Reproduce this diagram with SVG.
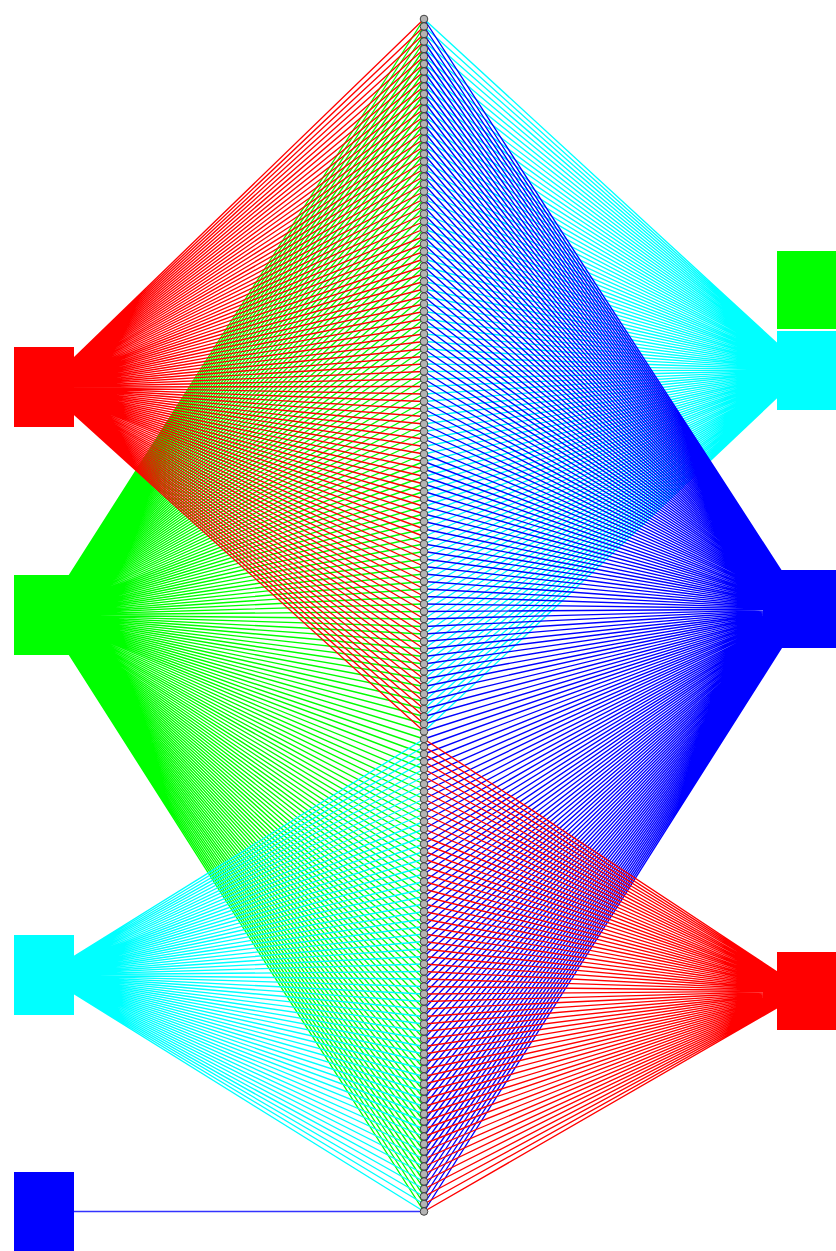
<svg xmlns="http://www.w3.org/2000/svg" xmlns:xlink="http://www.w3.org/1999/xlink" width="836" height="1251" viewBox="0 0 836 1251">
<style>
.c path{fill:none;stroke-width:1.35;stroke-linejoin:round}
.box{stroke:none}
.n use{fill:#b4b4b4;stroke:#333333;stroke-width:0.9}
</style>
<defs><circle id="c" cx="424" cy="0" r="3.8"/></defs>
<rect width="836" height="1251" fill="#fff"/>
<g id="connectors" class="c">
<path id="e-left-green" stroke="#00ff00" d="M44 615 424 19 44 615 424 26.5 44 615 424 34 44 615 424 41.5 44 615 424 49 44 615 424 56.5 44 615 424 64 44 615 424 71.5 44 615 424 79 44 615 424 86.5 44 615 424 94 44 615 424 101.5 44 615 424 109 44 615 424 116.5 44 615 424 124 44 615 424 131.5 44 615 424 139 44 615 424 146.5 44 615 424 154 44 615 424 161.5 44 615 424 169 44 615 424 176.5 44 615 424 184 44 615 424 191.5 44 615 424 199 44 615 424 206.5 44 615 424 214 44 615 424 221.5 44 615 424 229 44 615 424 236.5 44 615 424 244 44 615 424 251.5 44 615 424 259 44 615 424 266.5 44 615 424 274 44 615 424 281.5 44 615 424 289 44 615 424 296.5 44 615 424 304 44 615 424 311.5 44 615 424 319 44 615 424 326.5 44 615 424 334 44 615 424 341.5 44 615 424 349 44 615 424 356.5 44 615 424 364 44 615 424 371.5 44 615 424 379 44 615 424 386.5 44 615 424 394 44 615 424 401.5 44 615 424 409 44 615 424 416.5 44 615 424 424 44 615 424 431.5 44 615 424 439 44 615 424 446.5 44 615 424 454 44 615 424 461.5 44 615 424 469 44 615 424 476.5 44 615 424 484 44 615 424 491.5 44 615 424 499 44 615 424 506.5 44 615 424 514 44 615 424 521.5 44 615 424 529 44 615 424 536.5 44 615 424 544 44 615 424 551.5 44 615 424 559 44 615 424 566.5 44 615 424 574 44 615 424 581.5 44 615 424 589 44 615 424 596.5 44 615 424 604 44 615 424 611.5 44 615 424 619 44 615 424 626.5 44 615 424 634 44 615 424 641.5 44 615 424 649 44 615 424 656.5 44 615 424 664 44 615 424 671.5 44 615 424 679 44 615 424 686.5 44 615 424 694 44 615 424 701.5 44 615 424 709 44 615 424 716.5 44 615 424 724 44 615 424 731.5 44 615 424 739 44 615 424 746.5 44 615 424 754 44 615 424 761.5 44 615 424 769 44 615 424 776.5 44 615 424 784 44 615 424 791.5 44 615 424 799 44 615 424 806.5 44 615 424 814 44 615 424 821.5 44 615 424 829 44 615 424 836.5 44 615 424 844 44 615 424 851.5 44 615 424 859 44 615 424 866.5 44 615 424 874 44 615 424 881.5 44 615 424 889 44 615 424 896.5 44 615 424 904 44 615 424 911.5 44 615 424 919 44 615 424 926.5 44 615 424 934 44 615 424 941.5 44 615 424 949 44 615 424 956.5 44 615 424 964 44 615 424 971.5 44 615 424 979 44 615 424 986.5 44 615 424 994 44 615 424 1001.5 44 615 424 1009 44 615 424 1016.5 44 615 424 1024 44 615 424 1031.5 44 615 424 1039 44 615 424 1046.5 44 615 424 1054 44 615 424 1061.5 44 615 424 1069 44 615 424 1076.5 44 615 424 1084 44 615 424 1091.5 44 615 424 1099 44 615 424 1106.5 44 615 424 1114 44 615 424 1121.5 44 615 424 1129 44 615 424 1136.5 44 615 424 1144 44 615 424 1151.5 44 615 424 1159 44 615 424 1166.5 44 615 424 1174 44 615 424 1181.5 44 615 424 1189 44 615 424 1196.5 44 615 424 1204 44 615 424 1211.5"/>
<path id="e-left-red" stroke="#ff0000" d="M44 387 424 19 44 387 424 26.5 44 387 424 34 44 387 424 41.5 44 387 424 49 44 387 424 56.5 44 387 424 64 44 387 424 71.5 44 387 424 79 44 387 424 86.5 44 387 424 94 44 387 424 101.5 44 387 424 109 44 387 424 116.5 44 387 424 124 44 387 424 131.5 44 387 424 139 44 387 424 146.5 44 387 424 154 44 387 424 161.5 44 387 424 169 44 387 424 176.5 44 387 424 184 44 387 424 191.5 44 387 424 199 44 387 424 206.5 44 387 424 214 44 387 424 221.5 44 387 424 229 44 387 424 236.5 44 387 424 244 44 387 424 251.5 44 387 424 259 44 387 424 266.5 44 387 424 274 44 387 424 281.5 44 387 424 289 44 387 424 296.5 44 387 424 304 44 387 424 311.5 44 387 424 319 44 387 424 326.5 44 387 424 334 44 387 424 341.5 44 387 424 349 44 387 424 356.5 44 387 424 364 44 387 424 371.5 44 387 424 379 44 387 424 386.5 44 387 424 394 44 387 424 401.5 44 387 424 409 44 387 424 416.5 44 387 424 424 44 387 424 431.5 44 387 424 439 44 387 424 446.5 44 387 424 454 44 387 424 461.5 44 387 424 469 44 387 424 476.5 44 387 424 484 44 387 424 491.5 44 387 424 499 44 387 424 506.5 44 387 424 514 44 387 424 521.5 44 387 424 529 44 387 424 536.5 44 387 424 544 44 387 424 551.5 44 387 424 559 44 387 424 566.5 44 387 424 574 44 387 424 581.5 44 387 424 589 44 387 424 596.5 44 387 424 604 44 387 424 611.5 44 387 424 619 44 387 424 626.5 44 387 424 634 44 387 424 641.5 44 387 424 649 44 387 424 656.5 44 387 424 664 44 387 424 671.5 44 387 424 679 44 387 424 686.5 44 387 424 694 44 387 424 701.5 44 387 424 709 44 387 424 716.5 44 387 424 724 44 387 424 731.5"/>
<path id="e-left-cyan" stroke="#00ffff" d="M44 975 424 739 44 975 424 746.5 44 975 424 754 44 975 424 761.5 44 975 424 769 44 975 424 776.5 44 975 424 784 44 975 424 791.5 44 975 424 799 44 975 424 806.5 44 975 424 814 44 975 424 821.5 44 975 424 829 44 975 424 836.5 44 975 424 844 44 975 424 851.5 44 975 424 859 44 975 424 866.5 44 975 424 874 44 975 424 881.5 44 975 424 889 44 975 424 896.5 44 975 424 904 44 975 424 911.5 44 975 424 919 44 975 424 926.5 44 975 424 934 44 975 424 941.5 44 975 424 949 44 975 424 956.5 44 975 424 964 44 975 424 971.5 44 975 424 979 44 975 424 986.5 44 975 424 994 44 975 424 1001.5 44 975 424 1009 44 975 424 1016.5 44 975 424 1024 44 975 424 1031.5 44 975 424 1039 44 975 424 1046.5 44 975 424 1054 44 975 424 1061.5 44 975 424 1069 44 975 424 1076.5 44 975 424 1084 44 975 424 1091.5 44 975 424 1099 44 975 424 1106.5 44 975 424 1114 44 975 424 1121.5 44 975 424 1129 44 975 424 1136.5 44 975 424 1144 44 975 424 1151.5 44 975 424 1159 44 975 424 1166.5 44 975 424 1174 44 975 424 1181.5 44 975 424 1189 44 975 424 1196.5 44 975 424 1204 44 975 424 1211.5"/>
<path id="e-left-blue" stroke="#3333ff" stroke-width="1.6" d="M44 1211.5 424 1211.5"/>
<path id="e-right-cyan" stroke="#00ffff" d="M806 370 424 19 806 370 424 26.5 806 370 424 34 806 370 424 41.5 806 370 424 49 806 370 424 56.5 806 370 424 64 806 370 424 71.5 806 370 424 79 806 370 424 86.5 806 370 424 94 806 370 424 101.5 806 370 424 109 806 370 424 116.5 806 370 424 124 806 370 424 131.5 806 370 424 139 806 370 424 146.5 806 370 424 154 806 370 424 161.5 806 370 424 169 806 370 424 176.5 806 370 424 184 806 370 424 191.5 806 370 424 199 806 370 424 206.5 806 370 424 214 806 370 424 221.5 806 370 424 229 806 370 424 236.5 806 370 424 244 806 370 424 251.5 806 370 424 259 806 370 424 266.5 806 370 424 274 806 370 424 281.5 806 370 424 289 806 370 424 296.5 806 370 424 304 806 370 424 311.5 806 370 424 319 806 370 424 326.5 806 370 424 334 806 370 424 341.5 806 370 424 349 806 370 424 356.5 806 370 424 364 806 370 424 371.5 806 370 424 379 806 370 424 386.5 806 370 424 394 806 370 424 401.5 806 370 424 409 806 370 424 416.5 806 370 424 424 806 370 424 431.5 806 370 424 439 806 370 424 446.5 806 370 424 454 806 370 424 461.5 806 370 424 469 806 370 424 476.5 806 370 424 484 806 370 424 491.5 806 370 424 499 806 370 424 506.5 806 370 424 514 806 370 424 521.5 806 370 424 529 806 370 424 536.5 806 370 424 544 806 370 424 551.5 806 370 424 559 806 370 424 566.5 806 370 424 574 806 370 424 581.5 806 370 424 589 806 370 424 596.5 806 370 424 604 806 370 424 611.5 806 370 424 619 806 370 424 626.5 806 370 424 634 806 370 424 641.5 806 370 424 649 806 370 424 656.5 806 370 424 664 806 370 424 671.5 806 370 424 679 806 370 424 686.5 806 370 424 694 806 370 424 701.5 806 370 424 709 806 370 424 716.5 806 370 424 724 806 370 424 731.5"/>
<path id="e-right-blue" stroke="#0000ff" d="M806 609 424 19 806 609 424 26.5 806 609 424 34 806 609 424 41.5 806 609 424 49 806 609 424 56.5 806 609 424 64 806 609 424 71.5 806 609 424 79 806 609 424 86.5 806 609 424 94 806 609 424 101.5 806 609 424 109 806 609 424 116.5 806 609 424 124 806 609 424 131.5 806 609 424 139 806 609 424 146.5 806 609 424 154 806 609 424 161.5 806 609 424 169 806 609 424 176.5 806 609 424 184 806 609 424 191.5 806 609 424 199 806 609 424 206.5 806 609 424 214 806 609 424 221.5 806 609 424 229 806 609 424 236.5 806 609 424 244 806 609 424 251.5 806 609 424 259 806 609 424 266.5 806 609 424 274 806 609 424 281.5 806 609 424 289 806 609 424 296.5 806 609 424 304 806 609 424 311.5 806 609 424 319 806 609 424 326.5 806 609 424 334 806 609 424 341.5 806 609 424 349 806 609 424 356.5 806 609 424 364 806 609 424 371.5 806 609 424 379 806 609 424 386.5 806 609 424 394 806 609 424 401.5 806 609 424 409 806 609 424 416.5 806 609 424 424 806 609 424 431.5 806 609 424 439 806 609 424 446.5 806 609 424 454 806 609 424 461.5 806 609 424 469 806 609 424 476.5 806 609 424 484 806 609 424 491.5 806 609 424 499 806 609 424 506.5 806 609 424 514 806 609 424 521.5 806 609 424 529 806 609 424 536.5 806 609 424 544 806 609 424 551.5 806 609 424 559 806 609 424 566.5 806 609 424 574 806 609 424 581.5 806 609 424 589 806 609 424 596.5 806 609 424 604 806 609 424 611.5 806 609 424 619 806 609 424 626.5 806 609 424 634 806 609 424 641.5 806 609 424 649 806 609 424 656.5 806 609 424 664 806 609 424 671.5 806 609 424 679 806 609 424 686.5 806 609 424 694 806 609 424 701.5 806 609 424 709 806 609 424 716.5 806 609 424 724 806 609 424 731.5 806 609 424 739 806 609 424 746.5 806 609 424 754 806 609 424 761.5 806 609 424 769 806 609 424 776.5 806 609 424 784 806 609 424 791.5 806 609 424 799 806 609 424 806.5 806 609 424 814 806 609 424 821.5 806 609 424 829 806 609 424 836.5 806 609 424 844 806 609 424 851.5 806 609 424 859 806 609 424 866.5 806 609 424 874 806 609 424 881.5 806 609 424 889 806 609 424 896.5 806 609 424 904 806 609 424 911.5 806 609 424 919 806 609 424 926.5 806 609 424 934 806 609 424 941.5 806 609 424 949 806 609 424 956.5 806 609 424 964 806 609 424 971.5 806 609 424 979 806 609 424 986.5 806 609 424 994 806 609 424 1001.5 806 609 424 1009 806 609 424 1016.5 806 609 424 1024 806 609 424 1031.5 806 609 424 1039 806 609 424 1046.5 806 609 424 1054 806 609 424 1061.5 806 609 424 1069 806 609 424 1076.5 806 609 424 1084 806 609 424 1091.5 806 609 424 1099 806 609 424 1106.5 806 609 424 1114 806 609 424 1121.5 806 609 424 1129 806 609 424 1136.5 806 609 424 1144 806 609 424 1151.5 806 609 424 1159 806 609 424 1166.5 806 609 424 1174 806 609 424 1181.5 806 609 424 1189 806 609 424 1196.5 806 609 424 1204 806 609 424 1211.5"/>
<path id="e-right-red" stroke="#ff0000" d="M806 991 424 739 806 991 424 746.5 806 991 424 754 806 991 424 761.5 806 991 424 769 806 991 424 776.5 806 991 424 784 806 991 424 791.5 806 991 424 799 806 991 424 806.5 806 991 424 814 806 991 424 821.5 806 991 424 829 806 991 424 836.5 806 991 424 844 806 991 424 851.5 806 991 424 859 806 991 424 866.5 806 991 424 874 806 991 424 881.5 806 991 424 889 806 991 424 896.5 806 991 424 904 806 991 424 911.5 806 991 424 919 806 991 424 926.5 806 991 424 934 806 991 424 941.5 806 991 424 949 806 991 424 956.5 806 991 424 964 806 991 424 971.5 806 991 424 979 806 991 424 986.5 806 991 424 994 806 991 424 1001.5 806 991 424 1009 806 991 424 1016.5 806 991 424 1024 806 991 424 1031.5 806 991 424 1039 806 991 424 1046.5 806 991 424 1054 806 991 424 1061.5 806 991 424 1069 806 991 424 1076.5 806 991 424 1084 806 991 424 1091.5 806 991 424 1099 806 991 424 1106.5 806 991 424 1114 806 991 424 1121.5 806 991 424 1129 806 991 424 1136.5 806 991 424 1144 806 991 424 1151.5 806 991 424 1159 806 991 424 1166.5 806 991 424 1174 806 991 424 1181.5 806 991 424 1189 806 991 424 1196.5 806 991 424 1204 806 991 424 1211.5"/>
</g>
<g id="left-red"><rect class="box" x="14" y="347" width="60" height="80" fill="#ff0000"/></g>
<g id="left-green"><rect class="box" x="14" y="575" width="60" height="80" fill="#00ff00"/></g>
<g id="left-cyan"><rect class="box" x="14" y="935" width="60" height="80" fill="#00ffff"/></g>
<g id="left-blue"><rect class="box" x="14" y="1172" width="60" height="80" fill="#0000ff"/></g>
<g id="right-green"><rect class="box" x="777" y="251" width="60" height="78" fill="#00ff00"/></g>
<g id="right-cyan"><rect class="box" x="777" y="331" width="60" height="79" fill="#00ffff"/></g>
<g id="right-blue"><rect class="box" x="777" y="570" width="60" height="78" fill="#0000ff"/></g>
<g id="right-red"><rect class="box" x="777" y="952" width="60" height="78" fill="#ff0000"/></g>
<g id="column" class="n">
<g id="n0"><use href="#c" y="19"/></g><g id="n1"><use href="#c" y="26.5"/></g><g id="n2"><use href="#c" y="34"/></g><g id="n3"><use href="#c" y="41.5"/></g><g id="n4"><use href="#c" y="49"/></g><g id="n5"><use href="#c" y="56.5"/></g><g id="n6"><use href="#c" y="64"/></g><g id="n7"><use href="#c" y="71.5"/></g><g id="n8"><use href="#c" y="79"/></g><g id="n9"><use href="#c" y="86.5"/></g>
<g id="n10"><use href="#c" y="94"/></g><g id="n11"><use href="#c" y="101.5"/></g><g id="n12"><use href="#c" y="109"/></g><g id="n13"><use href="#c" y="116.5"/></g><g id="n14"><use href="#c" y="124"/></g><g id="n15"><use href="#c" y="131.5"/></g><g id="n16"><use href="#c" y="139"/></g><g id="n17"><use href="#c" y="146.5"/></g><g id="n18"><use href="#c" y="154"/></g><g id="n19"><use href="#c" y="161.5"/></g>
<g id="n20"><use href="#c" y="169"/></g><g id="n21"><use href="#c" y="176.5"/></g><g id="n22"><use href="#c" y="184"/></g><g id="n23"><use href="#c" y="191.5"/></g><g id="n24"><use href="#c" y="199"/></g><g id="n25"><use href="#c" y="206.5"/></g><g id="n26"><use href="#c" y="214"/></g><g id="n27"><use href="#c" y="221.5"/></g><g id="n28"><use href="#c" y="229"/></g><g id="n29"><use href="#c" y="236.5"/></g>
<g id="n30"><use href="#c" y="244"/></g><g id="n31"><use href="#c" y="251.5"/></g><g id="n32"><use href="#c" y="259"/></g><g id="n33"><use href="#c" y="266.5"/></g><g id="n34"><use href="#c" y="274"/></g><g id="n35"><use href="#c" y="281.5"/></g><g id="n36"><use href="#c" y="289"/></g><g id="n37"><use href="#c" y="296.5"/></g><g id="n38"><use href="#c" y="304"/></g><g id="n39"><use href="#c" y="311.5"/></g>
<g id="n40"><use href="#c" y="319"/></g><g id="n41"><use href="#c" y="326.5"/></g><g id="n42"><use href="#c" y="334"/></g><g id="n43"><use href="#c" y="341.5"/></g><g id="n44"><use href="#c" y="349"/></g><g id="n45"><use href="#c" y="356.5"/></g><g id="n46"><use href="#c" y="364"/></g><g id="n47"><use href="#c" y="371.5"/></g><g id="n48"><use href="#c" y="379"/></g><g id="n49"><use href="#c" y="386.5"/></g>
<g id="n50"><use href="#c" y="394"/></g><g id="n51"><use href="#c" y="401.5"/></g><g id="n52"><use href="#c" y="409"/></g><g id="n53"><use href="#c" y="416.5"/></g><g id="n54"><use href="#c" y="424"/></g><g id="n55"><use href="#c" y="431.5"/></g><g id="n56"><use href="#c" y="439"/></g><g id="n57"><use href="#c" y="446.5"/></g><g id="n58"><use href="#c" y="454"/></g><g id="n59"><use href="#c" y="461.5"/></g>
<g id="n60"><use href="#c" y="469"/></g><g id="n61"><use href="#c" y="476.5"/></g><g id="n62"><use href="#c" y="484"/></g><g id="n63"><use href="#c" y="491.5"/></g><g id="n64"><use href="#c" y="499"/></g><g id="n65"><use href="#c" y="506.5"/></g><g id="n66"><use href="#c" y="514"/></g><g id="n67"><use href="#c" y="521.5"/></g><g id="n68"><use href="#c" y="529"/></g><g id="n69"><use href="#c" y="536.5"/></g>
<g id="n70"><use href="#c" y="544"/></g><g id="n71"><use href="#c" y="551.5"/></g><g id="n72"><use href="#c" y="559"/></g><g id="n73"><use href="#c" y="566.5"/></g><g id="n74"><use href="#c" y="574"/></g><g id="n75"><use href="#c" y="581.5"/></g><g id="n76"><use href="#c" y="589"/></g><g id="n77"><use href="#c" y="596.5"/></g><g id="n78"><use href="#c" y="604"/></g><g id="n79"><use href="#c" y="611.5"/></g>
<g id="n80"><use href="#c" y="619"/></g><g id="n81"><use href="#c" y="626.5"/></g><g id="n82"><use href="#c" y="634"/></g><g id="n83"><use href="#c" y="641.5"/></g><g id="n84"><use href="#c" y="649"/></g><g id="n85"><use href="#c" y="656.5"/></g><g id="n86"><use href="#c" y="664"/></g><g id="n87"><use href="#c" y="671.5"/></g><g id="n88"><use href="#c" y="679"/></g><g id="n89"><use href="#c" y="686.5"/></g>
<g id="n90"><use href="#c" y="694"/></g><g id="n91"><use href="#c" y="701.5"/></g><g id="n92"><use href="#c" y="709"/></g><g id="n93"><use href="#c" y="716.5"/></g><g id="n94"><use href="#c" y="724"/></g><g id="n95"><use href="#c" y="731.5"/></g><g id="n96"><use href="#c" y="739"/></g><g id="n97"><use href="#c" y="746.5"/></g><g id="n98"><use href="#c" y="754"/></g><g id="n99"><use href="#c" y="761.5"/></g>
<g id="n100"><use href="#c" y="769"/></g><g id="n101"><use href="#c" y="776.5"/></g><g id="n102"><use href="#c" y="784"/></g><g id="n103"><use href="#c" y="791.5"/></g><g id="n104"><use href="#c" y="799"/></g><g id="n105"><use href="#c" y="806.5"/></g><g id="n106"><use href="#c" y="814"/></g><g id="n107"><use href="#c" y="821.5"/></g><g id="n108"><use href="#c" y="829"/></g><g id="n109"><use href="#c" y="836.5"/></g>
<g id="n110"><use href="#c" y="844"/></g><g id="n111"><use href="#c" y="851.5"/></g><g id="n112"><use href="#c" y="859"/></g><g id="n113"><use href="#c" y="866.5"/></g><g id="n114"><use href="#c" y="874"/></g><g id="n115"><use href="#c" y="881.5"/></g><g id="n116"><use href="#c" y="889"/></g><g id="n117"><use href="#c" y="896.5"/></g><g id="n118"><use href="#c" y="904"/></g><g id="n119"><use href="#c" y="911.5"/></g>
<g id="n120"><use href="#c" y="919"/></g><g id="n121"><use href="#c" y="926.5"/></g><g id="n122"><use href="#c" y="934"/></g><g id="n123"><use href="#c" y="941.5"/></g><g id="n124"><use href="#c" y="949"/></g><g id="n125"><use href="#c" y="956.5"/></g><g id="n126"><use href="#c" y="964"/></g><g id="n127"><use href="#c" y="971.5"/></g><g id="n128"><use href="#c" y="979"/></g><g id="n129"><use href="#c" y="986.5"/></g>
<g id="n130"><use href="#c" y="994"/></g><g id="n131"><use href="#c" y="1001.5"/></g><g id="n132"><use href="#c" y="1009"/></g><g id="n133"><use href="#c" y="1016.5"/></g><g id="n134"><use href="#c" y="1024"/></g><g id="n135"><use href="#c" y="1031.5"/></g><g id="n136"><use href="#c" y="1039"/></g><g id="n137"><use href="#c" y="1046.5"/></g><g id="n138"><use href="#c" y="1054"/></g><g id="n139"><use href="#c" y="1061.5"/></g>
<g id="n140"><use href="#c" y="1069"/></g><g id="n141"><use href="#c" y="1076.5"/></g><g id="n142"><use href="#c" y="1084"/></g><g id="n143"><use href="#c" y="1091.5"/></g><g id="n144"><use href="#c" y="1099"/></g><g id="n145"><use href="#c" y="1106.5"/></g><g id="n146"><use href="#c" y="1114"/></g><g id="n147"><use href="#c" y="1121.5"/></g><g id="n148"><use href="#c" y="1129"/></g><g id="n149"><use href="#c" y="1136.5"/></g>
<g id="n150"><use href="#c" y="1144"/></g><g id="n151"><use href="#c" y="1151.5"/></g><g id="n152"><use href="#c" y="1159"/></g><g id="n153"><use href="#c" y="1166.5"/></g><g id="n154"><use href="#c" y="1174"/></g><g id="n155"><use href="#c" y="1181.5"/></g><g id="n156"><use href="#c" y="1189"/></g><g id="n157"><use href="#c" y="1196.5"/></g><g id="n158"><use href="#c" y="1204"/></g><g id="n159"><use href="#c" y="1211.5"/></g>
</g>
</svg>
